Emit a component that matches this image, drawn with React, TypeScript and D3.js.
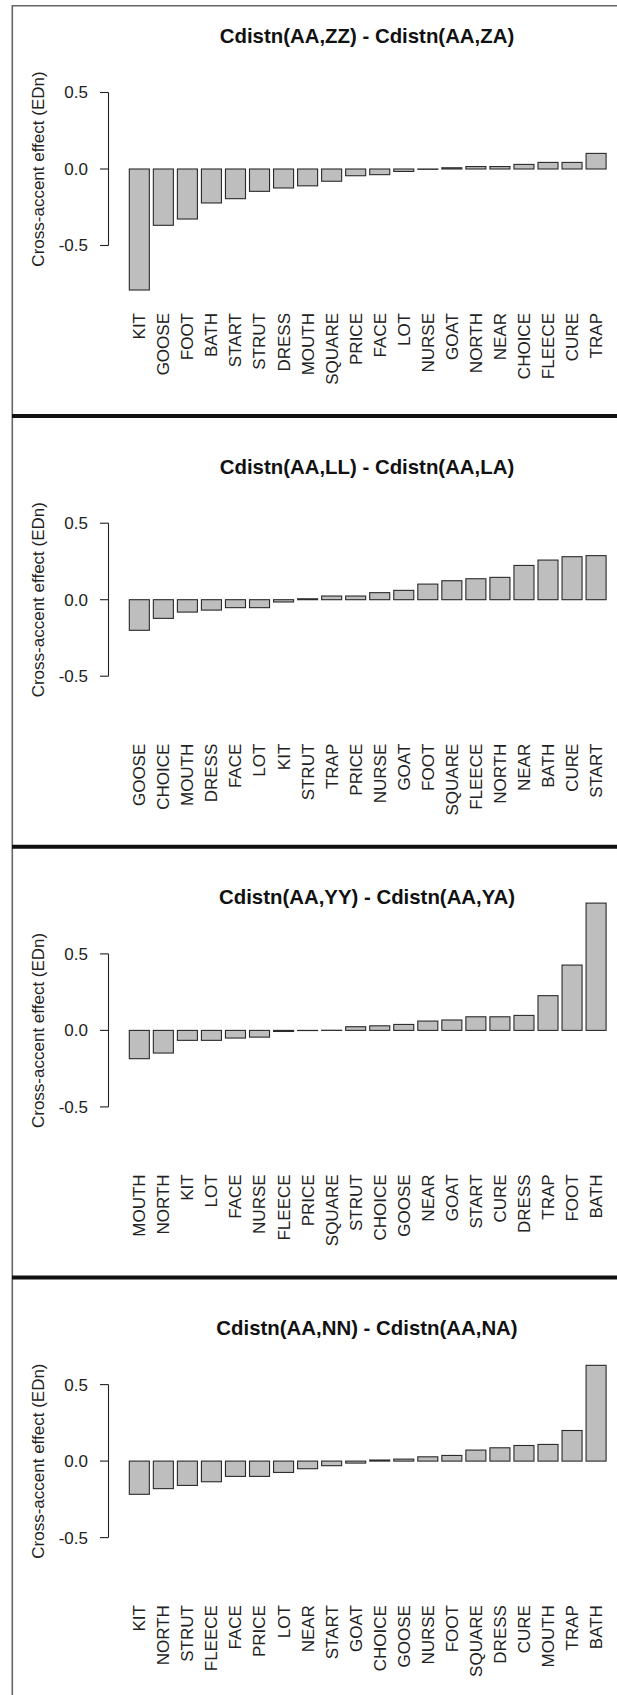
import * as d3 from 'd3'

const W = 617, H = 1695
const FONT = 'Liberation Sans, Arial, Helvetica, sans-serif'

// ── data ──────────────────────────────────────────────────────────────
const TITLES = [
  'Cdistn(AA,ZZ) - Cdistn(AA,ZA)',
  'Cdistn(AA,LL) - Cdistn(AA,LA)',
  'Cdistn(AA,YY) - Cdistn(AA,YA)',
  'Cdistn(AA,NN) - Cdistn(AA,NA)',
]

const CATS_ZZ = ['KIT','GOOSE','FOOT','BATH','START','STRUT','DRESS','MOUTH','SQUARE','PRICE','FACE','LOT','NURSE','GOAT','NORTH','NEAR','CHOICE','FLEECE','CURE','TRAP']
const VALS_ZZ = [-0.791, -0.368, -0.327, -0.222, -0.194, -0.146, -0.124, -0.110, -0.080, -0.044, -0.037, -0.016, -0.002, 0.008, 0.016, 0.016, 0.030, 0.043, 0.043, 0.102]

const CATS_LL = ['GOOSE','CHOICE','MOUTH','DRESS','FACE','LOT','KIT','STRUT','TRAP','PRICE','NURSE','GOAT','FOOT','SQUARE','FLEECE','NORTH','NEAR','BATH','CURE','START']
const VALS_LL = [-0.200, -0.122, -0.081, -0.068, -0.052, -0.052, -0.015, 0.006, 0.024, 0.024, 0.046, 0.061, 0.102, 0.124, 0.137, 0.146, 0.224, 0.259, 0.281, 0.288]

const CATS_YY = ['MOUTH','NORTH','KIT','LOT','FACE','NURSE','FLEECE','PRICE','SQUARE','STRUT','CHOICE','GOOSE','NEAR','GOAT','START','CURE','DRESS','TRAP','FOOT','BATH']
const VALS_YY = [-0.185, -0.148, -0.065, -0.065, -0.050, -0.044, -0.007, -0.001, 0.001, 0.024, 0.030, 0.039, 0.061, 0.068, 0.089, 0.089, 0.098, 0.227, 0.427, 0.832]

const CATS_NN = ['KIT','NORTH','STRUT','FLEECE','FACE','PRICE','LOT','NEAR','START','GOAT','CHOICE','GOOSE','NURSE','FOOT','SQUARE','DRESS','CURE','MOUTH','TRAP','BATH']
const VALS_NN = [-0.217, -0.180, -0.159, -0.135, -0.100, -0.100, -0.074, -0.050, -0.030, -0.013, 0.007, 0.013, 0.028, 0.037, 0.072, 0.087, 0.102, 0.109, 0.200, 0.626]

const Y_TICKS = [-0.5, 0, 0.5]
const Y_LABEL = 'Cross-accent effect (EDn)'

const PANELS = [
  { title: TITLES[0], cats: CATS_ZZ, vals: VALS_ZZ },
  { title: TITLES[1], cats: CATS_LL, vals: VALS_LL },
  { title: TITLES[2], cats: CATS_YY, vals: VALS_YY },
  { title: TITLES[3], cats: CATS_NN, vals: VALS_NN },
]

// ── layout ────────────────────────────────────────────────────────────
const ZERO0 = 169          // y of the zero line in the first panel
const PITCH = 430.7        // vertical distance between panels
const HALF = 76.5          // px for 0.5 units
const AXIS_X = 108.5
const BAR_X0 = 129.3, BAR_X1 = 606.1

function Panel({ title, cats, vals, zero, last }: {
  title: string, cats: string[], vals: number[], zero: number, last: boolean
}) {
  const y = d3.scaleLinear().domain([-0.5, 0.5]).range([zero + HALF, zero - HALF])
  const x = d3.scaleBand<string>().domain(cats).range([BAR_X0, BAR_X1]).paddingInner(1 / 6).paddingOuter(0)
  const y0 = y(0)

  return (
    <g>
      <text x={367} y={zero - 126} textAnchor="middle" fontFamily={FONT} fontWeight="bold"
        fontSize={20.4} fill="#111">{title}</text>

      {/* y axis */}
      <line x1={AXIS_X} x2={AXIS_X} y1={y(0.5)} y2={y(-0.5)} stroke="#222" strokeWidth={1.1} />
      {Y_TICKS.map(t => (
        <g key={t}>
          <line x1={AXIS_X - 8.5} x2={AXIS_X} y1={y(t)} y2={y(t)} stroke="#222" strokeWidth={1.1} />
          <text x={88} y={y(t)} dy="0.35em" textAnchor="end" fontFamily={FONT} fontSize={17} fill="#222">
            {t.toFixed(1)}
          </text>
        </g>
      ))}
      <text transform={`translate(38,${zero}) rotate(-90)`} dy="0.35em" textAnchor="middle"
        fontFamily={FONT} fontSize={17} fill="#222">{Y_LABEL}</text>

      {/* bars */}
      {cats.map((c, i) => {
        const v = vals[i]
        const top = Math.min(y(v), y0)
        const h = Math.abs(y(v) - y0)
        return (
          <rect key={c} x={x(c)!} y={top} width={x.bandwidth()} height={h}
            fill="#bebebe" stroke="#2a2a2a" strokeWidth={1.1} />
        )
      })}

      {/* category labels */}
      {cats.map(c => (
        <text key={c} transform={`translate(${x(c)! + x.bandwidth() / 2},${zero + 144}) rotate(-90)`}
          dy="0.35em" textAnchor="end" fontFamily={FONT} fontSize={17} fill="#222">{c}</text>
      ))}

      {!last && (
        <line x1={12} x2={W} y1={zero + 247} y2={zero + 247} stroke="#111" strokeWidth={4} />
      )}
    </g>
  )
}

export default function App() {
  return (
    <div style={{ position: 'absolute', left: 0, top: 0, background: '#fff' }}>
      <svg width={W} height={H} viewBox={`0 0 ${W} ${H}`} style={{ display: 'block' }}>
        <rect width={W} height={H} fill="#fff" />
        {/* outer frame (top + left only; right side is cropped) */}
        <line x1={12.3} x2={W} y1={5.7} y2={5.7} stroke="#666" strokeWidth={1.6} />
        <line x1={12.3} x2={12.3} y1={5} y2={H} stroke="#666" strokeWidth={1.6} />
        {PANELS.map((p, i) => (
          <Panel key={p.title} title={p.title} cats={p.cats} vals={p.vals}
            zero={ZERO0 + PITCH * i} last={i === PANELS.length - 1} />
        ))}
      </svg>
    </div>
  )
}
